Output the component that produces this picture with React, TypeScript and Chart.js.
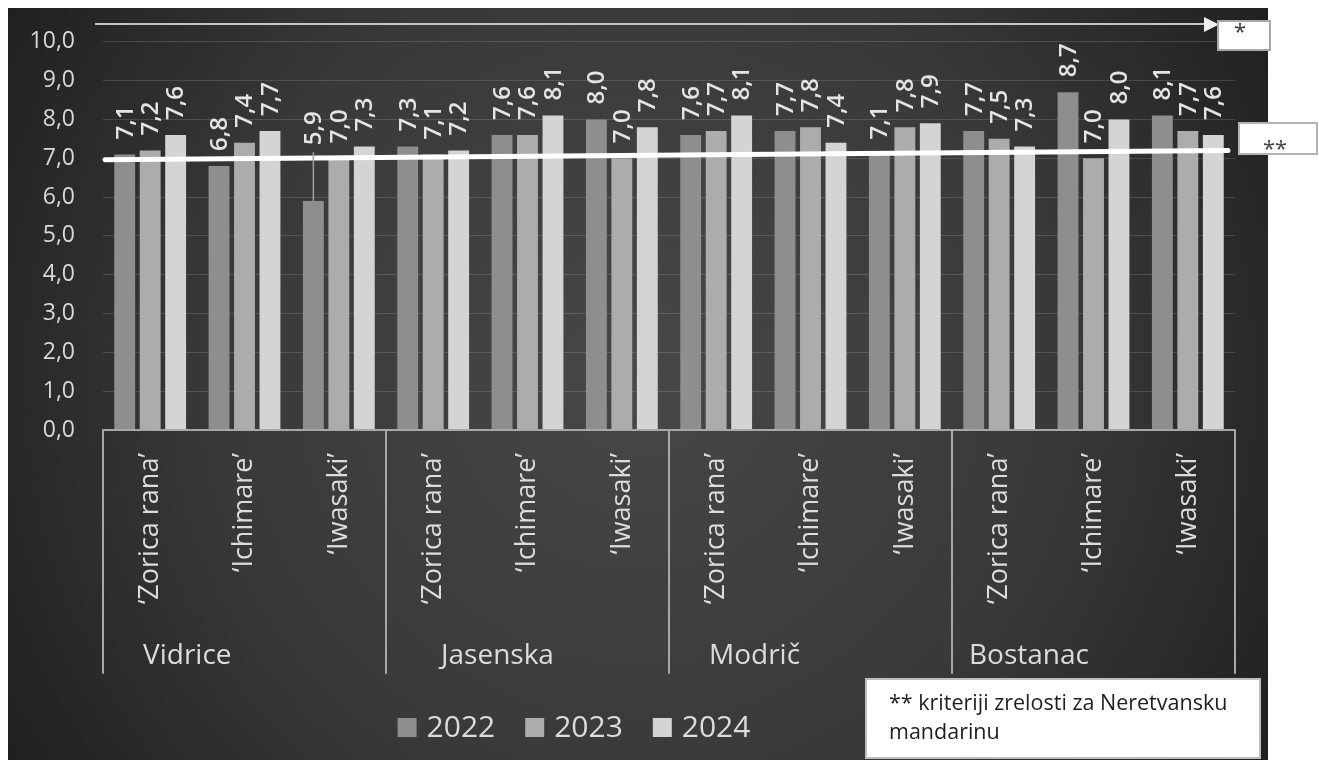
import React, { useEffect, useRef } from "react";
import { Chart, registerables } from "chart.js";

Chart.register(...registerables);

const categories = [
  "‘Zorica rana’", "‘Ichimare’", "‘Iwasaki’",
  "‘Zorica rana’", "‘Ichimare’", "‘Iwasaki’",
  "‘Zorica rana’", "‘Ichimare’", "‘Iwasaki’",
  "‘Zorica rana’", "‘Ichimare’", "‘Iwasaki’",
];
const groups = ["Vidrice", "Jasenska", "Modrič", "Bostanac"];
const years = ["2022", "2023", "2024"];
const values2022 = [7.1, 6.8, 5.9, 7.3, 7.6, 8.0, 7.6, 7.7, 7.1, 7.7, 8.7, 8.1];
const values2023 = [7.2, 7.4, 7.0, 7.1, 7.6, 7.0, 7.7, 7.8, 7.8, 7.5, 7.0, 7.7];
const values2024 = [7.6, 7.7, 7.3, 7.2, 8.1, 7.8, 8.1, 7.4, 7.9, 7.3, 8.0, 7.6];
const yTicks = [0, 1, 2, 3, 4, 5, 6, 7, 8, 9, 10];
const thresholdLine = [6.96, 7.2];
// label moved up with a leader line: [datasetIndex, categoryIndex, label level]
const movedLabels = [[0, 2, 7.0]];
const noteLines = ["** kriteriji zrelosti za Neretvansku", "mandarinu"];
const starLabel = "*";
const doubleStarLabel = "**";

const FONT = "'Open Sans', 'Noto Sans', sans-serif";
const barColors = ["#8e8e8e", "#acacac", "#d4d4d4"];
const groupLabelOffsets = [40, 55, 40, 17];

const fmt = (v: number) => v.toFixed(1).replace(".", ",");

export default function App() {
  const ref = useRef<HTMLCanvasElement | null>(null);

  useEffect(() => {
    const canvas = ref.current;
    if (!canvas) return;

    const decor = {
      id: "decor",
      beforeDraw(chart: any) {
        const ctx = chart.ctx;
        ctx.save();
        ctx.fillStyle = "#ffffff";
        ctx.fillRect(0, 0, chart.width, chart.height);
        const g = ctx.createRadialGradient(640, 380, 0, 640, 380, 760);
        g.addColorStop(0, "#474747");
        g.addColorStop(0.55, "#393939");
        g.addColorStop(1, "#1e1e1e");
        ctx.fillStyle = g;
        ctx.fillRect(8, 8, 1260, 760);
        ctx.restore();
      },
      afterDatasetsDraw(chart: any) {
        const ctx = chart.ctx;
        const ys = chart.scales.y;
        const xs = chart.scales.x;
        const area = chart.chartArea;
        ctx.save();

        // threshold line
        ctx.strokeStyle = "#ffffff";
        ctx.lineWidth = 5;
        ctx.lineCap = "round";
        ctx.beginPath();
        ctx.moveTo(area.left + 2, ys.getPixelForValue(thresholdLine[0]));
        ctx.lineTo(area.right - 7, ys.getPixelForValue(thresholdLine[1]));
        ctx.stroke();

        // data labels
        ctx.fillStyle = "#e4e4e4";
        ctx.font = `600 24px ${FONT}`;
        ctx.textAlign = "left";
        ctx.textBaseline = "middle";
        chart.data.datasets.forEach((ds: any, di: number) => {
          const meta = chart.getDatasetMeta(di);
          meta.data.forEach((el: any, i: number) => {
            let y = el.y - 15;
            const moved = movedLabels.find((m) => m[0] === di && m[1] === i);
            if (moved) {
              y = ys.getPixelForValue(moved[2]) - 13;
              ctx.save();
              ctx.strokeStyle = "#a0a0a0";
              ctx.lineWidth = 1.5;
              ctx.lineCap = "butt";
              ctx.beginPath();
              ctx.moveTo(el.x, el.y);
              ctx.lineTo(el.x, y + 7);
              ctx.stroke();
              ctx.restore();
            }
            ctx.save();
            ctx.translate(el.x + 1, y);
            ctx.rotate(-Math.PI / 2);
            ctx.fillText(fmt(ds.data[i]), 0, 0);
            ctx.restore();
          });
        });

        // axis separators
        const catW = (area.right - area.left) / categories.length;
        ctx.strokeStyle = "#a8a8a8";
        ctx.lineWidth = 2;
        for (let g = 0; g <= groups.length; g++) {
          const x = area.left + g * 3 * catW;
          ctx.beginPath();
          ctx.moveTo(x, area.bottom);
          ctx.lineTo(x, 673);
          ctx.stroke();
        }

        // variety labels
        ctx.fillStyle = "#dcdcdc";
        ctx.font = `27px ${FONT}`;
        ctx.textAlign = "right";
        ctx.textBaseline = "middle";
        categories.forEach((c, i) => {
          const x = xs.getPixelForValue(i);
          ctx.save();
          ctx.translate(x, 453);
          ctx.rotate(-Math.PI / 2);
          ctx.fillText(c, 0, 0);
          ctx.restore();
        });

        // group labels
        ctx.font = `28px ${FONT}`;
        ctx.textAlign = "left";
        groups.forEach((g, gi) => {
          const x = area.left + gi * 3 * catW + groupLabelOffsets[gi];
          ctx.fillText(g, x, 656);
        });

        // legend
        ctx.font = `30px ${FONT}`;
        const sq = 19;
        const widths = years.map((y) => ctx.measureText(y).width);
        const total = widths.reduce((a, w) => a + sq + 10 + w, 0) + 30 * (years.length - 1);
        let lx = 574 - total / 2;
        years.forEach((y, i) => {
          ctx.fillStyle = barColors[i];
          ctx.fillRect(lx, 718, sq, sq);
          ctx.fillStyle = "#dcdcdc";
          ctx.textAlign = "left";
          ctx.fillText(y, lx + sq + 10, 728);
          lx += sq + 10 + widths[i] + 30;
        });

        // arrow line
        ctx.strokeStyle = "#c4c4c4";
        ctx.lineWidth = 2;
        ctx.lineCap = "butt";
        ctx.beginPath();
        ctx.moveTo(95, 24);
        ctx.lineTo(1206, 24);
        ctx.stroke();
        ctx.fillStyle = "#eeeeee";
        ctx.beginPath();
        ctx.moveTo(1204, 17);
        ctx.lineTo(1219, 24.5);
        ctx.lineTo(1204, 32);
        ctx.closePath();
        ctx.fill();

        // "*" box
        ctx.fillStyle = "#ffffff";
        ctx.fillRect(1218, 21, 52, 29);
        ctx.strokeStyle = "#a8a8a8";
        ctx.lineWidth = 2;
        ctx.strokeRect(1218, 21, 52, 29);
        ctx.fillStyle = "#333333";
        ctx.font = `22px ${FONT}`;
        ctx.textAlign = "center";
        ctx.fillText(starLabel, 1240, 33);

        // "**" box
        ctx.fillStyle = "#ffffff";
        ctx.fillRect(1239, 123, 78, 31);
        ctx.strokeStyle = "#b4b4b4";
        ctx.strokeRect(1239, 123, 78, 31);
        ctx.fillStyle = "#444444";
        ctx.font = `22px ${FONT}`;
        ctx.fillText(doubleStarLabel, 1275, 150);

        // note box
        ctx.fillStyle = "#ffffff";
        ctx.fillRect(866, 679, 394, 79);
        ctx.strokeStyle = "#bdbdbd";
        ctx.strokeRect(866, 679, 394, 79);
        ctx.fillStyle = "#1e1e1e";
        ctx.font = `21.5px ${FONT}`;
        ctx.textAlign = "left";
        ctx.fillText(noteLines[0], 889, 704);
        ctx.fillText(noteLines[1], 889, 733);

        ctx.restore();
      },
    };

    const chart = new Chart(canvas, {
      type: "bar",
      data: {
        labels: categories,
        datasets: [
          { label: years[0], data: values2022, backgroundColor: barColors[0] },
          { label: years[1], data: values2023, backgroundColor: barColors[1] },
          { label: years[2], data: values2024, backgroundColor: barColors[2] },
        ],
      },
      options: {
        responsive: false,
        animation: false,
        devicePixelRatio: 1,
        layout: { padding: { left: 8, top: 40, right: 84, bottom: 0 } },
        datasets: { bar: { categoryPercentage: 0.81, barPercentage: 0.82 } },
        plugins: { legend: { display: false }, tooltip: { enabled: false }, title: { display: false } },
        scales: {
          x: {
            display: true,
            ticks: { display: false },
            grid: { display: false },
            border: { display: false },
            afterFit: (s: any) => { s.height = 330; },
          },
          y: {
            min: yTicks[0],
            max: yTicks[yTicks.length - 1],
            afterFit: (s: any) => { s.width = 95; },
            afterBuildTicks: (s: any) => { s.ticks = yTicks.map((v) => ({ value: v })); },
            ticks: {
              color: "#d8d8d8",
              font: { family: FONT, size: 23 },
              padding: 28,
              callback: (v: any) => fmt(Number(v)),
            },
            grid: {
              drawTicks: false,
              color: (c: any) => (c.tick && c.tick.value === 0 ? "#a8a8a8" : "rgba(255,255,255,0.14)"),
              lineWidth: (c: any) => (c.tick && c.tick.value === 0 ? 2 : 1),
            },
            border: { display: false },
          },
        },
      },
      plugins: [decor],
    } as any);

    return () => chart.destroy();
  }, []);

  return (
    <div style={{ position: "fixed", left: 0, top: 0, width: 1319, height: 760, overflow: "hidden" }}>
      <canvas ref={ref} width={1319} height={760} style={{ display: "block" }} />
    </div>
  );
}
